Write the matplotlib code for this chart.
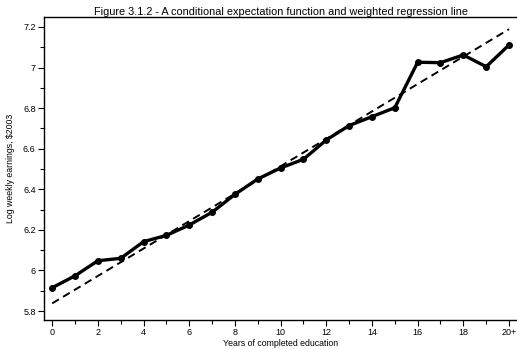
import matplotlib
matplotlib.use("Agg")
import matplotlib.pyplot as plt
from matplotlib.ticker import MultipleLocator

plt.rcParams['font.family'] = ['Liberation Sans', 'DejaVu Sans']

years = [0, 1, 2, 3, 4, 5, 6, 7, 8, 9, 10, 11, 12, 13, 14, 15, 16, 17, 18, 19, 20]
log_earnings = [5.915, 5.974, 6.048, 6.060, 6.142, 6.173, 6.224, 6.287, 6.375, 6.451,
                6.505, 6.548, 6.643, 6.714, 6.758, 6.802, 7.026, 7.024, 7.062, 7.004, 7.111]
reg_x = [0, 20]
reg_y = [5.838, 7.189]
xtick_vals = [0, 2, 4, 6, 8, 10, 12, 14, 16, 18, 20]
xtick_labels = ['0', '2', '4', '6', '8', '10', '12', '14', '16', '18', '20+']
ytick_vals = [5.8, 6.0, 6.2, 6.4, 6.6, 6.8, 7.0, 7.2]
ytick_labels = ['5.8', '6', '6.2', '6.4', '6.6', '6.8', '7', '7.2']

fig = plt.figure(figsize=(5.17, 3.49), dpi=100)
ax = fig.add_axes([44/517, 1-320/349, 1-44/517, (320-17)/349])

ax.plot(reg_x, reg_y, color='black', lw=1.4, ls=(0, (4, 2.5)))
ax.plot(years, log_earnings, color='black', lw=2.4, marker='o', ms=4)

ax.set_xlim(-0.36, 20.35)
ax.set_ylim(5.756, 7.249)
ax.set_xticks(xtick_vals)
ax.set_xticklabels(xtick_labels)
ax.set_yticks(ytick_vals)
ax.set_yticklabels(ytick_labels)
ax.xaxis.set_minor_locator(MultipleLocator(1))
ax.yaxis.set_minor_locator(MultipleLocator(0.1))
ax.tick_params(which='both', direction='out', labelsize=6.5, colors='black', width=0.8)
ax.tick_params(which='major', length=4.5, pad=1.5)
ax.tick_params(which='minor', length=3)
ax.spines['right'].set_visible(False)
for s in ['left', 'bottom', 'top']:
    ax.spines[s].set_linewidth(1.0)

ax.set_xlabel('Years of completed education', fontsize=6.3, labelpad=1)
ax.set_ylabel('Log weekly earnings, $2003', fontsize=6.3, labelpad=6)
ax.set_title('Figure 3.1.2 - A conditional expectation function and weighted regression line',
             fontsize=7.8, pad=1.5)

fig.savefig('out.png', dpi=100)
